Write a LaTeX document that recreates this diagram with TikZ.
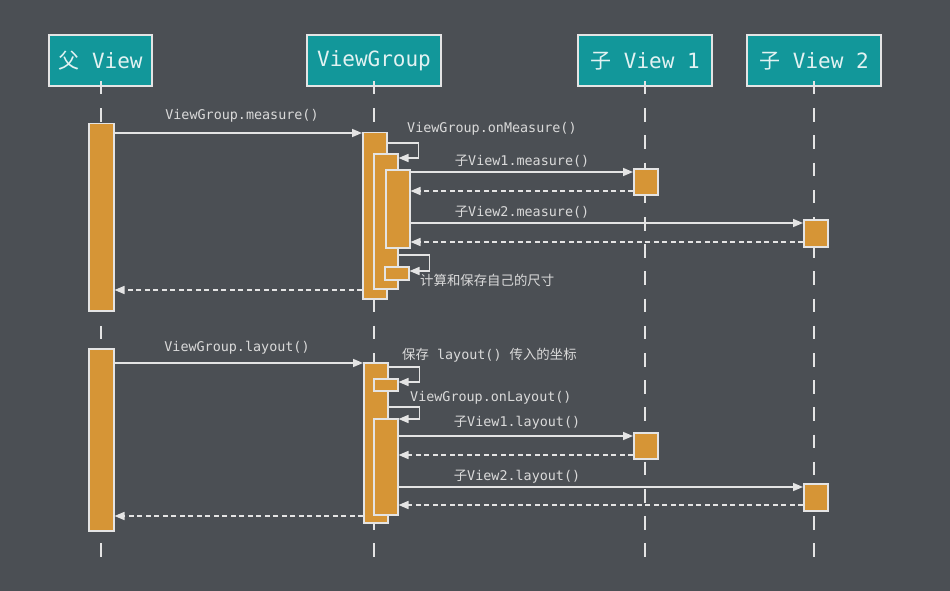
\documentclass[tikz,border=0pt]{standalone}
\usepackage{fontspec}
\setmainfont{DejaVu Sans Mono}
\newfontfamily\cjk{Noto Sans CJK SC}
\usetikzlibrary{arrows.meta}
\definecolor{bg}{HTML}{4B4F54}
\definecolor{headfill}{HTML}{12979A}
\definecolor{barfill}{HTML}{D69536}
\definecolor{ln}{HTML}{E4E4E4}
\definecolor{txt}{HTML}{DADADA}
\definecolor{headtxt}{HTML}{E2F2F2}
\begin{document}
\begin{tikzpicture}[x=1pt,y=-1pt,
 head/.style={draw=ln, line width=2pt, fill=headfill, text=headtxt, font=\fontsize{21}{24}\selectfont, minimum height=51pt, inner sep=0},
 life/.style={draw=ln, line width=2pt, dash pattern=on 13.5pt off 13.7pt},
 actbar/.style={draw=ln, line width=1.5pt, fill=barfill, anchor=north west, inner sep=0, minimum width=24pt},
 call/.style={draw=ln, line width=1.5pt, -{Triangle[length=10pt,width=8pt]}},
 ret/.style={call, dash pattern=on 5pt off 3.5pt},
 lbl/.style={text=txt, font=\fontsize{13.4}{16}\selectfont, inner sep=0}
]
\fill[bg] (0,0) rectangle (950,591);
\useasboundingbox (0,0) rectangle (950,591);

% headers
\node[head, minimum width=103pt] (hp) at (100.5,61) {{\cjk 父} View};
\node[head, minimum width=134pt] (hg) at (374,61) {ViewGroup};
\node[head, minimum width=134pt] (h1) at (645,61) {{\cjk 子} View 1};
\node[head, minimum width=134pt] (h2) at (814,61) {{\cjk 子} View 2};

% lifeline ends
\coordinate (ep) at (100.5,568);
\coordinate (eg) at (374,568);
\coordinate (e1) at (645,568);
\coordinate (e2) at (814,568);
\draw[life] ([yshift=6.5pt]hp.south) -- (ep);
\draw[life] ([yshift=6.5pt]hg.south) -- (eg);
\draw[life] ([yshift=6.5pt]h1.south) -- (e1);
\draw[life] ([yshift=6.5pt]h2.south) -- (e2);

% activation bars
\node[actbar, minimum width=25pt, minimum height=187pt] (pA1) at (88,123) {};
\node[actbar, minimum width=25pt, minimum height=182pt] (pA2) at (88,348) {};
\node[actbar, minimum height=166pt] (vA) at (362,132) {};
\node[actbar, minimum height=135pt] (vB) at (373,153) {};
\node[actbar, minimum height=78pt] (vC) at (385,169) {};
\node[actbar, minimum height=13pt] (vD) at (384,266) {};
\node[actbar, minimum height=26pt] (c1a) at (633,168) {};
\node[actbar, minimum height=27pt] (c2a) at (803,219) {};
\node[actbar, minimum height=160pt] (vE) at (363,362) {};
\node[actbar, minimum height=12pt] (vF) at (373,378) {};
\node[actbar, minimum height=96pt] (vG) at (373,418) {};
\node[actbar, minimum height=26pt] (c1b) at (633,432) {};
\node[actbar, minimum height=27pt] (c2b) at (803,483) {};

% measure phase
\draw[call] (pA1.east |- 0,133) -- (vA.west |- 0,133);
\node[lbl] (l1) at (242,116) {ViewGroup.measure()};
\draw[call] (vA.east |- 0,143) -- ++(31,0) -- ++(0,15) -- (vB.east |- 0,158);
\node[lbl, anchor=west] (l2) at (407,129) {ViewGroup.onMeasure()};
\draw[call] (vC.east |- 0,172) -- (c1a.west |- 0,172);
\node[lbl] (l3) at (522,161) {{\cjk 子}View1.measure()};
\draw[ret] (c1a.west |- 0,191) -- (vC.east |- 0,191);
\draw[call] (vC.east |- 0,223) -- (c2a.west |- 0,223);
\node[lbl] (l4) at (522,212) {{\cjk 子}View2.measure()};
\draw[ret] (c2a.west |- 0,242) -- (vC.east |- 0,242);
\draw[call] (vB.east |- 0,255) -- ++(31,0) -- ++(0,16) -- (vD.east |- 0,271);
\node[lbl, anchor=west] (l5) at (420,280) {\cjk 计算和保存自己的尺寸};
\draw[ret] (vA.west |- 0,290) -- (pA1.east |- 0,290);

% layout phase
\draw[call] (pA2.east |- 0,363) -- (vE.west |- 0,363);
\node[lbl] (l6) at (237,348) {ViewGroup.layout()};
\draw[call] (vE.east |- 0,367) -- ++(31,0) -- ++(0,15) -- (vF.east |- 0,382);
\node[lbl, anchor=west] (l7) at (402,355) {{\cjk 保存} layout() {\cjk 传入的坐标}};
\draw[call] (vE.east |- 0,407) -- ++(31,0) -- ++(0,12) -- (vG.east |- 0,419);
\node[lbl, anchor=west] (l8) at (410,398) {ViewGroup.onLayout()};
\draw[call] (vG.east |- 0,436) -- (c1b.west |- 0,436);
\node[lbl] (l9) at (517,423) {{\cjk 子}View1.layout()};
\draw[ret] (c1b.west |- 0,455) -- (vG.east |- 0,455);
\draw[call] (vG.east |- 0,487) -- (c2b.west |- 0,487);
\node[lbl] (l10) at (517,477) {{\cjk 子}View2.layout()};
\draw[ret] (c2b.west |- 0,505) -- (vG.east |- 0,505);
\draw[ret] (vE.west |- 0,516) -- (pA2.east |- 0,516);
\end{tikzpicture}
\end{document}
